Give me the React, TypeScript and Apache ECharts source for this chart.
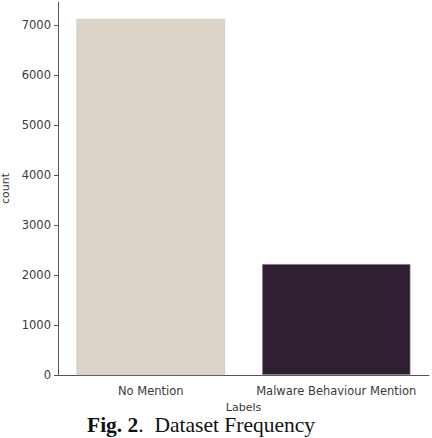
import React, { useEffect, useRef } from "react";
import * as echarts from "echarts";

const categories = ["No Mention", "Malware Behaviour Mention"];
const counts = [7120, 2220];
const barColors = ["#ddd4c9", "#2f1f33"];
const yTicks = [0, 1000, 2000, 3000, 4000, 5000, 6000, 7000];

export default function App() {
  const ref = useRef<HTMLDivElement>(null);
  useEffect(() => {
    if (!ref.current) return;
    const chart = echarts.init(ref.current, null, { renderer: "svg" });
    const axisFont = { fontFamily: "DejaVu Sans", fontSize: 11.5, color: "#3a3a3a" };
    chart.setOption({
      animation: false,
      backgroundColor: "#ffffff",
      grid: { left: 58, right: 3, top: 2, bottom: 63, containLabel: false, outerBoundsMode: "none" },
      xAxis: {
        type: "category",
        data: categories,
        name: "Labels",
        nameLocation: "middle",
        nameGap: 25,
        nameTextStyle: { ...axisFont, fontSize: 11, lineHeight: 11 },
        axisLine: { lineStyle: { color: "#555555", width: 1 } },
        axisTick: { alignWithLabel: true, length: 4, lineStyle: { color: "#555555" } },
        axisLabel: { ...axisFont, margin: 10, interval: 0, hideOverlap: false },
      },
      yAxis: {
        type: "value",
        min: 0,
        max: 7460,
        interval: 1000,
        name: "count",
        nameLocation: "middle",
        nameGap: 46,
        nameTextStyle: { ...axisFont, fontSize: 11 },
        axisLine: { show: true, lineStyle: { color: "#555555", width: 1 } },
        axisTick: { show: true, length: 4, customValues: yTicks, lineStyle: { color: "#555555" } },
        axisLabel: {
          ...axisFont,
          margin: 7,
          customValues: yTicks,
          formatter: (v: number) => String(v),
        },
        splitLine: { show: false },
      },
      series: [
        {
          type: "bar",
          barCategoryGap: "20%",
          data: counts.map((v, i) => ({
            value: v,
            itemStyle: { color: barColors[i], borderColor: "#bdb8b4", borderWidth: 0.5 },
          })),
        },
      ],
      graphic: [
        {
          type: "text",
          left: 87,
          top: 414,
          style: {
            text: "{b|Fig. 2}{n|.  Dataset Frequency}",
            rich: {
              b: { fontFamily: "Liberation Serif", fontWeight: "bold", fontSize: 21.5, lineHeight: 22, fill: "#111" },
              n: { fontFamily: "Liberation Serif", fontSize: 21.5, lineHeight: 22, fill: "#111" },
            },
          },
        },
      ],
    });
    return () => chart.dispose();
  }, []);
  return <div ref={ref} style={{ width: 432, height: 438, position: "absolute", left: 0, top: 0 }} />;
}
